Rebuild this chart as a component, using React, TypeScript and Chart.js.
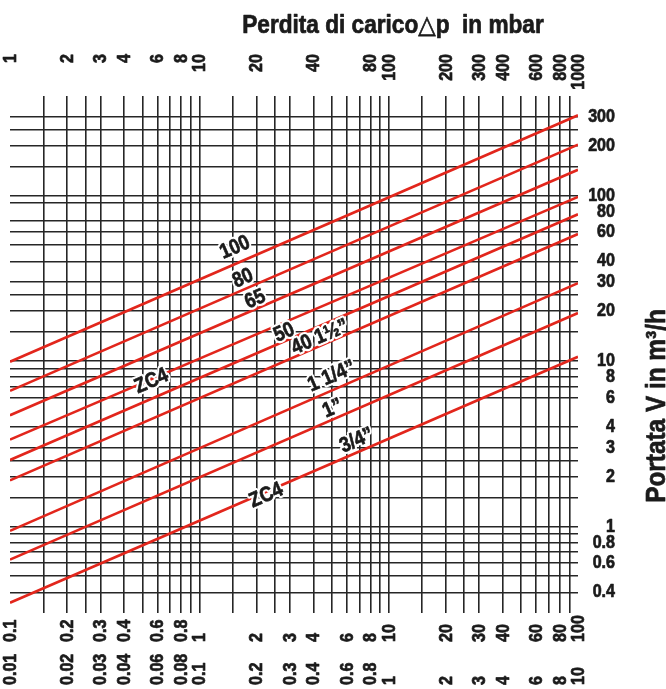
import React, { useEffect, useRef } from "react";
import { Chart, registerables } from "chart.js";

Chart.register(...registerables);

// ---------------- data ----------------
// pressure drop Δp (mbar) at the two ends of each line
const pressureEnds = [1, 1000];
// flow (m3/h) at Δp = 1 mbar and at Δp = 1000 mbar for each valve size
const seriesNames = ["100", "80", "65", "ZC4", "50", "40 / 1½”", "1 1/4”", "1”", "3/4” / ZC4"];
const flowAtStart = [9.9, 6.6, 4.7, 3.35, 2.52, 1.9, 0.94, 0.63, 0.346];
const flowAtEnd = [305, 203, 143, 98, 77, 58.5, 29.5, 19.5, 10.6];

// grid lines
const xGridValues = [
  1.5, 2, 2.5, 3, 4, 5, 6, 7, 8, 9, 10,
  15, 20, 25, 30, 40, 50, 60, 70, 80, 90, 100,
  150, 200, 250, 300, 400, 500, 600, 700, 800, 900,
];
const yGridValues = [
  0.4, 0.5, 0.6, 0.7, 0.8, 0.9, 1, 1.5, 2, 2.5, 3, 4, 6, 7, 8, 9,
  10, 15, 20, 25, 30, 40, 50, 60, 70, 90, 100, 150, 200, 250, 300,
];

// tick labels
const yTickLabels = [0.4, 0.6, 0.8, 1, 2, 3, 4, 6, 8, 10, 20, 30, 40, 60, 80, 100, 200, 300];
const topTickValues = [1, 2, 3, 4, 6, 8, 10, 20, 40, 80, 100, 200, 300, 400, 600, 800, 1000];
const bottomTickValues = [1, 2, 3, 4, 6, 8, 10, 20, 30, 40, 60, 80, 100, 200, 300, 400, 600, 800, 1000];
const bottomUpperLabels = ["0.1", "0.2", "0.3", "0.4", "0.6", "0.8", "1", "2", "3", "4", "6", "8", "10", "20", "30", "40", "60", "80", "100"];
const bottomLowerLabels = ["0.01", "0.02", "0.03", "0.04", "0.06", "0.08", "0.1", "0.2", "0.3", "0.4", "0.6", "0.8", "1", "2", "3", "4", "6", "8", "10"];

// line captions: text, series index, Δp where it sits on the line
const captionTexts = ["100", "80", "65", "ZC4", "50", "40 1½”", "1 1/4”", "1”", "3/4”", "ZC4"];
const captionSeries = [0, 1, 2, 3, 4, 5, 6, 7, 8, 8];
const captionPressure = [16.6, 17.9, 20.6, 5.54, 29.2, 45.1, 53.3, 53.1, 71.5, 22.2];

const topTitle = "Perdita di carico△p  in mbar";
const rightTitle = "Portata V in m³/h";

// ---------------- styles ----------------
const captionOffsets = [15, 10.5, 9, -2, 8, 8, 13, 10, 11, -3.5];
const GRID = "#262626";
const RED = "#e2261c";
const INK = "#1b1b1b";

let FAMILY = '"Liberation Sans"';
let SX = 0.87;

function detectFamily() {
  const c = document.createElement("canvas").getContext("2d");
  if (!c) return;
  const probe = "0123456789PortataVmbar";
  const has = (fam: string) => {
    c.font = `bold 40px ${fam}, monospace`;
    const a = c.measureText(probe).width;
    c.font = "bold 40px monospace";
    const b = c.measureText(probe).width;
    return Math.abs(a - b) > 0.5;
  };
  if (has('"Liberation Sans Narrow"')) {
    FAMILY = '"Liberation Sans Narrow"';
    SX = 1.06;
  } else {
    FAMILY = '"Liberation Sans"';
    SX = 0.87;
  }
}

function drawText(
  ctx: CanvasRenderingContext2D,
  text: string,
  px: number,
  py: number,
  angle: number,
  align: CanvasTextAlign,
  baseline: CanvasTextBaseline,
  size: number,
  halo = false,
  sxFactor = 1
) {
  ctx.save();
  ctx.translate(px, py);
  ctx.rotate(angle);
  ctx.scale(SX * sxFactor, 1);
  ctx.font = `bold ${size}px ${FAMILY}, "DejaVu Sans", sans-serif`;
  ctx.textAlign = align;
  ctx.textBaseline = baseline;
  if (halo) {
    ctx.lineWidth = 5;
    ctx.lineJoin = "round";
    ctx.strokeStyle = "#ffffff";
    ctx.strokeText(text, 0, 0);
  }
  ctx.fillStyle = INK;
  ctx.strokeStyle = INK;
  ctx.lineWidth = 0.7;
  ctx.lineJoin = "round";
  ctx.fillText(text, 0, 0);
  ctx.strokeText(text, 0, 0);
  ctx.restore();
}

const textPlugin = {
  id: "chartTexts",
  afterDraw(chart: any) {
    const ctx: CanvasRenderingContext2D = chart.ctx;
    const xs = chart.scales.x;
    const ys = chart.scales.y;

    // line captions
    captionTexts.forEach((t, i) => {
      const s = captionSeries[i];
      const x1 = xs.getPixelForValue(pressureEnds[0]);
      const x2 = xs.getPixelForValue(pressureEnds[1]);
      const y1 = ys.getPixelForValue(flowAtStart[s]);
      const y2 = ys.getPixelForValue(flowAtEnd[s]);
      const ang = Math.atan2(y2 - y1, x2 - x1);
      const lx = xs.getPixelForValue(captionPressure[i]);
      const ly = y1 + ((lx - x1) / (x2 - x1)) * (y2 - y1);
      const off = captionOffsets[i];
      const px = lx + off * Math.sin(ang);
      const py = ly - off * Math.cos(ang);
      drawText(ctx, t, px, py, ang, "center", "middle", 21, true);
    });

    // right axis labels (flow)
    yTickLabels.forEach((v) => {
      drawText(ctx, String(v), 615, ys.getPixelForValue(v), 0, "right", "middle", 18.5);
    });

    // top axis labels (Δp)
    topTickValues.forEach((v) => {
      const px = xs.getPixelForValue(v);
      drawText(ctx, String(v), px + 1, 54, -Math.PI / 2, "right", "middle", 18.5);
    });

    // bottom axis labels (two rows)
    bottomTickValues.forEach((v, i) => {
      const px = xs.getPixelForValue(v);
      drawText(ctx, bottomUpperLabels[i], px + 1, 642, -Math.PI / 2, "left", "middle", 18.5);
      drawText(ctx, bottomLowerLabels[i], px + 1, 685, -Math.PI / 2, "left", "middle", 18.5);
    });

    // titles
    drawText(ctx, topTitle, 393, 33, 0, "center", "alphabetic", 25, false, 1.04);
    drawText(ctx, rightTitle, 665, 406, -Math.PI / 2, "center", "alphabetic", 28);
  },
};

export default function App() {
  const ref = useRef<HTMLCanvasElement>(null);

  useEffect(() => {
    if (!ref.current) return;
    detectFamily();
    const gridSet = new Set(yGridValues);

    const chart = new Chart(ref.current, {
      type: "line",
      data: {
        datasets: seriesNames.map((name, i) => ({
          label: name,
          data: pressureEnds.map((p, j) => ({ x: p, y: j === 0 ? flowAtStart[i] : flowAtEnd[i] })),
          borderColor: RED,
          borderWidth: 2.6,
          pointRadius: 0,
          fill: false,
          tension: 0,
        })),
      },
      options: {
        responsive: false,
        animation: false,
        devicePixelRatio: 1,
        layout: { padding: { left: 10, right: 0, top: 0, bottom: 76 } },
        plugins: {
          legend: { display: false },
          tooltip: { enabled: false },
          title: { display: false },
        },
        scales: {
          x: {
            type: "logarithmic",
            position: "top",
            min: 1,
            max: 1000,
            border: { display: false },
            grid: { color: GRID, lineWidth: 1.6, drawTicks: false },
            ticks: { display: false },
            afterBuildTicks: (s: any) => {
              s.ticks = xGridValues.map((v) => ({ value: v }));
            },
            afterFit: (s: any) => {
              s.height = 96;
            },
          },
          y: {
            type: "logarithmic",
            position: "right",
            min: 0.316,
            max: 399,
            border: { display: false },
            grid: {
              color: (c: any) => (c.tick && gridSet.has(c.tick.value) ? GRID : "rgba(0,0,0,0)"),
              lineWidth: 1.6,
              drawTicks: false,
            },
            ticks: { display: false },
            afterBuildTicks: (s: any) => {
              s.ticks = yGridValues.map((v) => ({ value: v }));
            },
            afterFit: (s: any) => {
              s.width = 88;
            },
          },
        },
      } as any,
      plugins: [textPlugin],
    });
    return () => chart.destroy();
  }, []);

  return (
    <canvas
      ref={ref}
      width={666}
      height={689}
      style={{ position: "absolute", left: 0, top: 0, width: 666, height: 689 }}
    />
  );
}
